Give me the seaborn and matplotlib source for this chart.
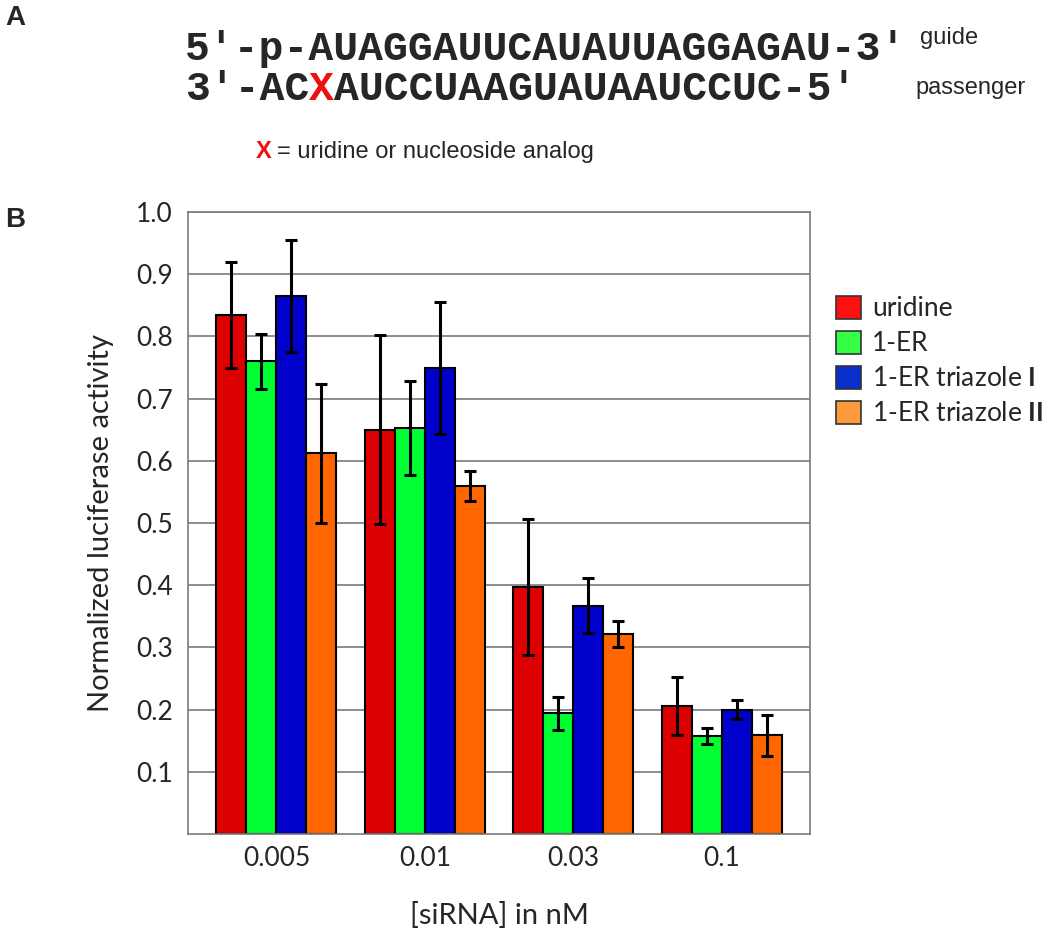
import pandas as pd
import matplotlib.pyplot as plt
from matplotlib.patches import Patch
import seaborn as sns

# siRNA concentrations (nM) and conditions
concs = ['0.005', '0.01', '0.03', '0.1']
conditions = ['uridine', '1-ER', '1-ER triazole I', '1-ER triazole II']

# normalized luciferase activity
uridine = [0.835, 0.650, 0.397, 0.206]
er1 = [0.760, 0.653, 0.194, 0.158]
triazole_1 = [0.865, 0.749, 0.367, 0.200]
triazole_2 = [0.612, 0.559, 0.322, 0.159]

uridine_err = [0.085, 0.152, 0.110, 0.047]
er1_err = [0.044, 0.076, 0.026, 0.013]
triazole_1_err = [0.090, 0.106, 0.044, 0.015]
triazole_2_err = [0.112, 0.024, 0.021, 0.033]

bar_colors = ['#DD0000', '#00FF33', '#0000CC', '#FF6600']
legend_colors = ['#FF1010', '#33FF44', '#0A2FCC', '#FF9A3C']
legend_labels = ['uridine', '1-ER', r'1-ER triazole $\mathbf{I}$', r'1-ER triazole $\mathbf{II}$']

values = [uridine, er1, triazole_1, triazole_2]
errors = [uridine_err, er1_err, triazole_1_err, triazole_2_err]

rows = []
for cond, vals, errs in zip(conditions, values, errors):
    for c, v, e in zip(concs, vals, errs):
        rows.append({'conc': c, 'condition': cond, 'activity': v, 'err': e})
df = pd.DataFrame(rows)

sns.set_style('white')
plt.rcParams['font.family'] = ['Lato', 'DejaVu Sans']
plt.rcParams['mathtext.fontset'] = 'custom'
plt.rcParams['mathtext.rm'] = 'Lato'
plt.rcParams['mathtext.bf'] = 'Lato:bold'

W, H = 1050, 940
fig = plt.figure(figsize=(W / 100, H / 100), dpi=100)
ax = fig.add_axes([188 / W, 1 - 834 / H, (810 - 188) / W, (834 - 212) / H])

sns.barplot(data=df, x='conc', y='activity', hue='condition', order=concs,
            hue_order=conditions, palette=bar_colors, width=0.81,
            edgecolor='black', linewidth=1.5, errorbar=None, legend=False,
            saturation=1, ax=ax)

# error bars on top of each seaborn bar
for cont, cond in zip(ax.containers, conditions):
    sub = df[df['condition'] == cond].set_index('conc').loc[concs]
    xs = [b.get_x() + b.get_width() / 2 for b in cont]
    ax.errorbar(xs, sub['activity'], yerr=sub['err'], fmt='none',
                ecolor='black', elinewidth=2.2, capsize=4, capthick=2.2, zorder=5)

ax.set_ylim(0, 1.0)
ax.set_yticks([0.1, 0.2, 0.3, 0.4, 0.5, 0.6, 0.7, 0.8, 0.9, 1.0])
ax.set_yticklabels(['0.1', '0.2', '0.3', '0.4', '0.5', '0.6', '0.7', '0.8', '0.9', '1.0'])
ax.yaxis.grid(True, color='#7a7a7a', linewidth=1.2)
ax.set_axisbelow(True)
for s in ax.spines.values():
    s.set_color('#7a7a7a')
    s.set_linewidth(1.2)
ax.tick_params(axis='both', length=0, labelsize=19)
ax.tick_params(axis='y', pad=11)
ax.tick_params(axis='x', pad=9)
ax.set_xlabel('')
ax.set_ylabel('')

fig.text(101 / W, 1 - 523 / H, 'Normalized luciferase activity', rotation=90,
         ha='center', va='center', fontsize=21)
fig.text(499 / W, 1 - 915 / H, '[siRNA] in nM', ha='center', va='center', fontsize=21)

handles = [Patch(facecolor=c, edgecolor='#333333', linewidth=1.2) for c in legend_colors]
fig.legend(handles, legend_labels, loc='upper left', bbox_to_anchor=(836 / W, 1 - 296 / H),
           frameon=False, fontsize=19, handlelength=0.95, handleheight=0.95,
           handletextpad=0.42, labelspacing=0.36, borderpad=0, borderaxespad=0)

# panel labels
sans = ['Liberation Sans', 'DejaVu Sans']
fig.text(5 / W, 1 - 18 / H, 'A', fontsize=20, fontweight='bold', family=sans,
         ha='left', va='center')
fig.text(5 / W, 1 - 220 / H, 'B', fontsize=20, fontweight='bold', family=sans,
         ha='left', va='center')

# panel A: siRNA duplex, monospaced so the red X sits in its own column
mono = ['Liberation Mono', 'DejaVu Sans Mono']
seq_size = 29.8
char_w = 0.6 * seq_size * 100 / 72
x0 = 185
fig.text(x0 / W, 1 - 60 / H, "5\u2032-p-AUAGGAUUCAUAUUAGGAGAU-3'", family=mono,
         fontweight='bold', fontsize=seq_size, ha='left', va='baseline')
fig.text(x0 / W, 1 - 100 / H, "3\u2032-AC", family=mono,
         fontweight='bold', fontsize=seq_size, ha='left', va='baseline')
fig.text((x0 + 5 * char_w) / W, 1 - 100 / H, "X", family=mono, color='#EE1111',
         fontweight='bold', fontsize=seq_size, ha='left', va='baseline')
fig.text((x0 + 6 * char_w) / W, 1 - 100 / H, "AUCCUAAGUAUAAUCCUC-5\u2032", family=mono,
         fontweight='bold', fontsize=seq_size, ha='left', va='baseline')

fig.text(920 / W, 1 - 38 / H, 'guide', family=sans, fontsize=17, ha='left', va='center')
fig.text(915 / W, 1 - 88 / H, 'passenger', family=sans, fontsize=17, ha='left', va='center')
fig.text(256 / W, 1 - 152 / H, 'X', family=sans, color='#EE1111', fontweight='bold',
         fontsize=17, ha='left', va='center')
fig.text(277 / W, 1 - 152 / H, '= uridine or nucleoside analog', family=sans,
         fontsize=17, ha='left', va='center')

fig.savefig('out.png', dpi=100)
